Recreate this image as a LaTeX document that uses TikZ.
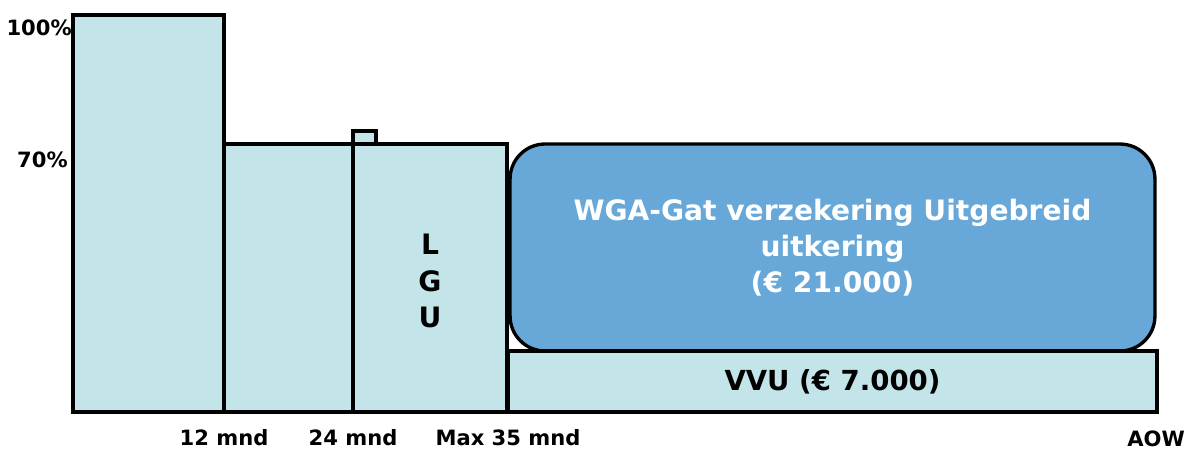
\documentclass[tikz,border=0pt]{standalone}
\usepackage{fontspec}
\setmainfont{DejaVu Sans}
\usetikzlibrary{positioning}
\definecolor{barfill}{RGB}{195,229,233}
\definecolor{gatblue}{RGB}{103,168,216}

\begin{document}
\begin{tikzpicture}[
        x=0.02cm, y=-0.02cm,
        bar/.style={draw=black, fill=barfill, line width=1.9pt},
        gat/.style={rectangle, draw=black, fill=gatblue, line width=1.9pt, rounded corners=0.7cm, minimum width=12.9cm, minimum height=4.14cm, align=center, text=white, font=\bfseries\fontsize{16}{20.5}\selectfont},
        vvubox/.style={rectangle, draw=black, fill=barfill, line width=1.9pt, minimum width=12.98cm, minimum height=1.22cm, font=\bfseries\fontsize{15.7}{19}\selectfont},
        axislabel/.style={inner sep=0pt, font=\bfseries\fontsize{12}{14}\selectfont}
    ]
        \useasboundingbox (0,0) rectangle (1186,450);

        % ================= STAPPEN =================
        \draw[bar] (73,15) rectangle (224,412);
        \draw[bar] (224,144) rectangle (353,412);
        \draw[bar] (353,131) rectangle (376,144);
        \draw[bar] (353,144) rectangle (507,412);
        \node[font=\bfseries\fontsize{16}{21}\selectfont, align=center] (lgu) at (430,281) {L\\G\\U};

        % ================= WGA-GAT =================
        \node[gat] (wga) at (832.5,247.5) {WGA-Gat verzekering Uitgebreid\\uitkering\\(€ 21.000)};
        \node[vvubox] (vvu) at (832.5,381.5) {VVU (€ 7.000)};

        % ================= ASSEN =================
        \node[axislabel, anchor=east] (pct100) at (72,28) {100\%};
        \node[axislabel, anchor=east] (pct70) at (68,160) {70\%};
        \node[axislabel] (mnd12) at (224,438) {12 mnd};
        \node[axislabel] (mnd24) at (353,438) {24 mnd};
        \node[axislabel] (mnd35) at (508,438) {Max 35 mnd};
        \node[axislabel] (aow) at (1156,439) {AOW};

    \end{tikzpicture}
\end{document}
